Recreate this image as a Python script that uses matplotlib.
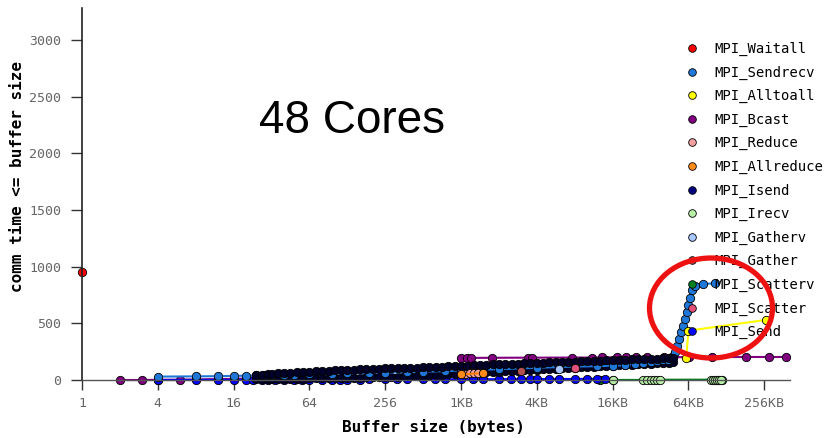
import matplotlib
matplotlib.use('Agg')
import matplotlib.pyplot as plt
from matplotlib.patches import Ellipse
from matplotlib.lines import Line2D

# buffer sizes in bytes, cumulative comm time
waitall_x = [1]
waitall_y = [950]

sendrecv_x = [4, 8, 12, 16, 20, 24, 28, 32, 40, 48, 64, 96, 128, 192, 256, 384, 512, 768,
              1024, 1536, 2048, 3072, 4096, 6144, 8192, 12288, 16384, 20480, 24576, 28672,
              32768, 36864, 40960, 45056, 47104, 49152, 51200, 53248, 55296, 57344, 59392,
              61440, 63488, 65536, 67584, 69632, 73728, 86016, 106496]
sendrecv_y = [30, 32, 34, 36, 38, 40, 42, 44, 46, 48, 50, 54, 58, 62, 66, 70, 74, 78,
              84, 90, 96, 102, 108, 114, 118, 122, 126, 130, 140, 150,
              160, 170, 175, 180, 190, 210, 250, 300, 360, 420, 480,
              540, 600, 660, 720, 790, 830, 845, 855]

alltoall_x = [63000, 65536, 270000]
alltoall_y = [195, 435, 530]

bcast_x = [2, 3, 4, 6, 8, 12, 16, 24, 32, 64, 128, 256, 512, 1000, 1024, 1136, 1240,
           1820, 3460, 3720, 7850, 11300, 13600, 17600, 21000, 25300, 31000, 42300,
           49000, 66000, 101000, 189000, 286000, 392000]
bcast_y = [0, 0, 2, 3, 5, 8, 10, 14, 18, 25, 32, 40, 48, 55, 192, 194, 195, 196, 197,
           197, 198, 198, 199, 199, 200, 200, 200, 201, 201, 202, 202, 203, 203, 203]

reduce_x = [1100, 1200, 1300, 1400]
reduce_y = [55, 58, 60, 62]

allreduce_x = [1024, 1536]
allreduce_y = [50, 60]

isend_x = [24, 27, 30, 32, 36, 40, 45, 51, 57, 64, 72, 81, 91, 102, 114, 128, 144, 161,
           181, 203, 228, 256, 287, 323, 362, 406, 456, 512, 575, 645, 724, 813, 912,
           1024, 1149, 1290, 1448, 1625, 1825, 2048, 2299, 2580, 2896, 3251, 3649, 4096,
           4598, 5161, 5793, 6502, 7298, 8192, 9195, 10321, 11585, 13004, 14596, 16384,
           18390, 20643, 23170, 26008, 29193, 32768, 36781, 41285, 46341, 49152]
isend_hi = [45, 48, 52, 55, 58, 62, 65, 68, 70, 74, 77, 80, 83, 86, 88, 90, 92, 94,
            96, 98, 100, 102, 103, 105, 106, 108, 110, 112, 114, 116, 118, 121, 123,
            125, 127, 130, 132, 134, 137, 139, 141, 143, 145, 147, 149, 151,
            153, 155, 157, 159, 161, 163, 165, 167, 169, 171, 173, 175,
            177, 179, 181, 183, 185, 187, 189, 191, 193, 195]
isend_lo = [8, 8, 9, 10, 10, 11, 12, 12, 13, 14, 15, 16, 17, 18, 19, 20, 21, 22,
            23, 24, 25, 26, 28, 30, 32, 34, 36, 38, 40, 43, 46, 49, 52,
            55, 58, 61, 64, 67, 70, 73, 76, 79, 82, 85, 88, 91,
            94, 97, 100, 103, 106, 109, 112, 115, 118, 121, 124, 127,
            130, 133, 136, 139, 142, 145, 148, 151, 154, 157]

irecv_x = [16384, 28672, 30720, 32768, 34816, 36864, 38912, 98304, 102400, 106496,
           110592, 114688, 118784]
irecv_y = [0, 0, 1, 1, 1, 2, 2, 2, 3, 3, 3, 4, 4]

gatherv_x = [6144]
gatherv_y = [100]
gather_x = [3072]
gather_y = [80]

scatterv_x = [13000, 16384, 112000, 122000]
scatterv_y = [0, 0, 1, 2]

scatter_x = [8192]
scatter_y = [110]

send_x = [4, 8, 12, 16, 20, 23, 27, 30, 34, 40, 48, 56, 64, 80, 96, 112, 128, 160, 192,
          256, 320, 384, 512, 640, 768, 1024, 1280, 1536, 2048, 2560, 3072, 3584, 4096,
          5120, 6144, 8192, 10240, 12288, 14336]
send_y = [0, 0, 1, 1, 1, 1, 2, 2, 2, 2, 3, 3, 3, 3, 4, 4, 4, 4, 5, 5, 5, 5, 6, 6, 6, 6,
          7, 7, 7, 8, 8, 8, 8, 9, 9, 9, 10, 10, 10]

tick_vals = [1, 4, 16, 64, 256, 1024, 4096, 16384, 65536, 262144]
tick_labels = ['1', '4', '16', '64', '256', '1KB', '4KB', '16KB', '64KB', '256KB']

fig = plt.figure(figsize=(8.25, 4.38), dpi=100)
ax = fig.add_axes([82 / 825, 58 / 438, 708 / 825, 372 / 438])

mk = dict(marker='o', markersize=6, markeredgecolor='black', markeredgewidth=0.6,
          linewidth=1.5, clip_on=False)

ax.plot(scatterv_x, scatterv_y, color='#008020', markerfacecolor='#008020', **mk)
ax.plot(irecv_x, irecv_y, color='#008020', markerfacecolor='#b8f0a8', **mk)
ax.plot(bcast_x, bcast_y, color='#800080', markerfacecolor='#800080', **mk)
ax.plot(send_x, send_y, color='#0000ff', markerfacecolor='#0000ff', **mk)
ax.plot(isend_x, isend_lo, color='#000020', markerfacecolor='#000028', **mk)
ax.plot(sendrecv_x, sendrecv_y, color='#1f78d8', markerfacecolor='#1f78d8', **mk)
ax.plot(isend_x, isend_hi, color='#000020', markerfacecolor='#000028', **mk)
ax.plot(gather_x, gather_y, color='#b05050', markerfacecolor='#b05050', **mk)
ax.plot(gatherv_x, gatherv_y, color='#a8c8ff', markerfacecolor='#a8c8ff', **mk)
ax.plot(scatter_x, scatter_y, color='#e05078', markerfacecolor='#e05078', **mk)
ax.plot(reduce_x, reduce_y, color='#f08080', markerfacecolor='#f4a0a0', **mk)
ax.plot(allreduce_x, allreduce_y, color='#ff8000', markerfacecolor='#ff8c1a', **mk)
ax.plot(alltoall_x, alltoall_y, color='#ffff00', markerfacecolor='#ffff00', **mk)
ax.plot(waitall_x, waitall_y, color='#ff0000', markerfacecolor='#ff0000', **mk)

ax.set_xscale('log', base=2)
ax.set_xlim(1, 2 ** 18.68)
ax.set_ylim(0, 3282)
ax.set_xticks(tick_vals)
ax.set_xticklabels(tick_labels)
ax.minorticks_off()
ax.set_yticks([0, 500, 1000, 1500, 2000, 2500, 3000])

for s in ['top', 'right']:
    ax.spines[s].set_visible(False)
ax.spines['left'].set_color('#222222')
ax.spines['left'].set_linewidth(1.2)
ax.spines['bottom'].set_color('#555555')
ax.spines['bottom'].set_linewidth(1.0)
ax.tick_params(axis='y', length=8, width=1, color='#333333', pad=7,
               labelsize=9.5, labelcolor='#666666')
ax.tick_params(axis='x', length=7, width=1, color='#333333', pad=5,
               labelsize=9.5, labelcolor='#666666')
for lab in ax.get_xticklabels() + ax.get_yticklabels():
    lab.set_family('DejaVu Sans Mono')

fig.text(18 / 825, 1 - 176 / 438, 'comm time <= buffer size', rotation=90,
         family='DejaVu Sans Mono', fontweight='bold', fontsize=11.5,
         ha='center', va='center')
fig.text(433 / 825, 1 - 427 / 438, 'Buffer size (bytes)', family='DejaVu Sans Mono',
         fontweight='bold', fontsize=11.5, ha='center', va='center')
fig.text(352 / 825, 1 - 121 / 438, '48 Cores', family='Liberation Sans', fontsize=33,
         ha='center', va='center')

names = ['MPI_Waitall', 'MPI_Sendrecv', 'MPI_Alltoall', 'MPI_Bcast', 'MPI_Reduce',
         'MPI_Allreduce', 'MPI_Isend', 'MPI_Irecv', 'MPI_Gatherv', 'MPI_Gather',
         'MPI_Scatterv', 'MPI_Scatter', 'MPI_Send']
colors = ['#ff0000', '#1f78d8', '#ffff00', '#800080', '#f4a0a0', '#ff8c1a', '#000080',
          '#b8f0a8', '#a8c8ff', '#b05050', '#008020', '#e05078', '#0000ff']
handles = [Line2D([], [], linestyle='none', marker='o', markersize=5.5,
                  markerfacecolor=c, markeredgecolor='black', markeredgewidth=0.6)
           for c in colors]
fig.legend(handles, names, loc='upper left', bbox_to_anchor=(685 / 825, 1 - 42 / 438),
           bbox_transform=fig.transFigure, frameon=False, borderpad=0, borderaxespad=0,
           handlelength=1.0, handletextpad=1.1, labelspacing=0.68,
           prop={'family': 'DejaVu Sans Mono', 'size': 10})

fig.add_artist(Ellipse((711 / 825, 1 - 308 / 438), 123 / 825, 100 / 438,
                       transform=fig.transFigure, fill=False, edgecolor='#ee1111',
                       linewidth=3.8, zorder=10))

fig.savefig('out.png', dpi=100)
